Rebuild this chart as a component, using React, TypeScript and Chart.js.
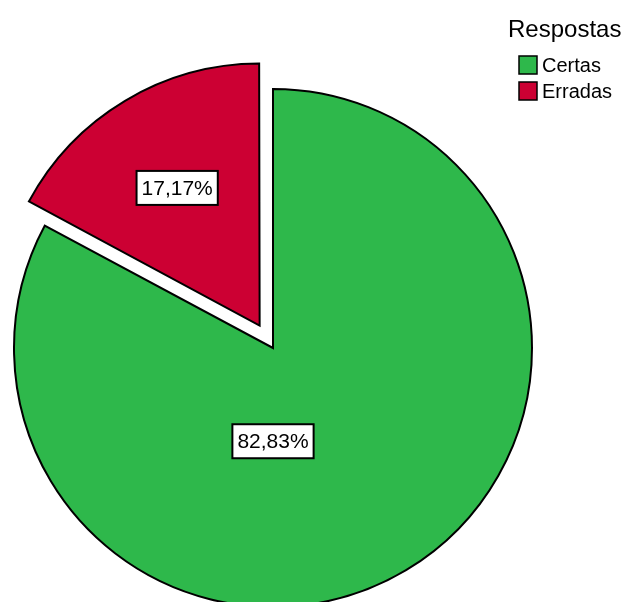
import React, { useEffect, useRef } from "react";
import { Chart, registerables } from "chart.js";

Chart.register(...registerables);

const legendTitle = "Respostas";
const categories = ["Certas", "Erradas"];
const values = [82.83, 17.17];
const valueLabels = ["82,83%", "17,17%"];
const colors = ["#2eb84b", "#cc0033"];
const explode = [0, 26]; // visual explode distance in px

// label anchor: angle (radians, canvas, null = bisector) and fraction of radius
const labelAnchors: { angle: number | null; frac: number }[] = [
  { angle: Math.PI / 2, frac: 0.36 },
  { angle: null, frac: 0.62 },
];

const FONT = '"Liberation Sans", Arial, sans-serif';

const overlayPlugin = {
  id: "overlay",
  afterDatasetsDraw(chart: any) {
    const ctx = chart.ctx as CanvasRenderingContext2D;
    const meta = chart.getDatasetMeta(0);
    ctx.save();
    meta.data.forEach((arc: any, i: number) => {
      const p = arc.getProps(["x", "y", "startAngle", "endAngle", "outerRadius"], true);
      const mid = (p.startAngle + p.endAngle) / 2;
      const off = explode[i] || 0;
      const cx = p.x + Math.cos(mid) * off;
      const cy = p.y + Math.sin(mid) * off;
      const a = labelAnchors[i].angle ?? mid;
      const lx = cx + Math.cos(a) * p.outerRadius * labelAnchors[i].frac;
      const ly = cy + Math.sin(a) * p.outerRadius * labelAnchors[i].frac;
      ctx.font = `21px ${FONT}`;
      const w = ctx.measureText(valueLabels[i]).width + 10;
      const h = 34;
      ctx.fillStyle = "#ffffff";
      ctx.fillRect(lx - w / 2, ly - h / 2, w, h);
      ctx.strokeStyle = "#000000";
      ctx.lineWidth = 2;
      ctx.strokeRect(lx - w / 2, ly - h / 2, w, h);
      ctx.fillStyle = "#000000";
      ctx.textAlign = "center";
      ctx.textBaseline = "middle";
      ctx.fillText(valueLabels[i], lx, ly + 1);
    });

    // legend
    ctx.font = `24px ${FONT}`;
    ctx.textAlign = "left";
    ctx.textBaseline = "alphabetic";
    ctx.fillStyle = "#000000";
    ctx.fillText(legendTitle, 508, 37);
    categories.forEach((c, i) => {
      const y = 56 + i * 26;
      ctx.fillStyle = colors[i];
      ctx.fillRect(519, y, 18, 18);
      ctx.strokeStyle = "#000000";
      ctx.lineWidth = 1.5;
      ctx.strokeRect(519, y, 18, 18);
      ctx.fillStyle = "#000000";
      ctx.font = `20px ${FONT}`;
      ctx.fillText(c, 542, y + 16);
    });
    ctx.restore();
  },
};

export default function App() {
  const ref = useRef<HTMLCanvasElement>(null);
  useEffect(() => {
    if (!ref.current) return;
    const chart = new Chart(ref.current, {
      type: "pie",
      data: {
        labels: categories,
        datasets: [
          {
            data: values,
            backgroundColor: colors,
            borderColor: "#000000",
            borderWidth: 2,
            borderJoinStyle: "miter",
            // Chart.js draws arcs displaced by offset / 4
            offset: explode.map((v) => v * 4),
            radius: 259,
            clip: false,
          } as any,
        ],
      },
      options: {
        responsive: false,
        animation: false,
        devicePixelRatio: 1,
        layout: { padding: { left: 0, right: 83, top: 94, bottom: 0 } },
        plugins: {
          legend: { display: false },
          tooltip: { enabled: false },
        },
      },
      plugins: [overlayPlugin],
    });
    return () => chart.destroy();
  }, []);
  return (
    <div style={{ position: "fixed", left: 0, top: 0, width: 629, height: 602, background: "#fff" }}>
      <canvas ref={ref} width={629} height={602} />
    </div>
  );
}
